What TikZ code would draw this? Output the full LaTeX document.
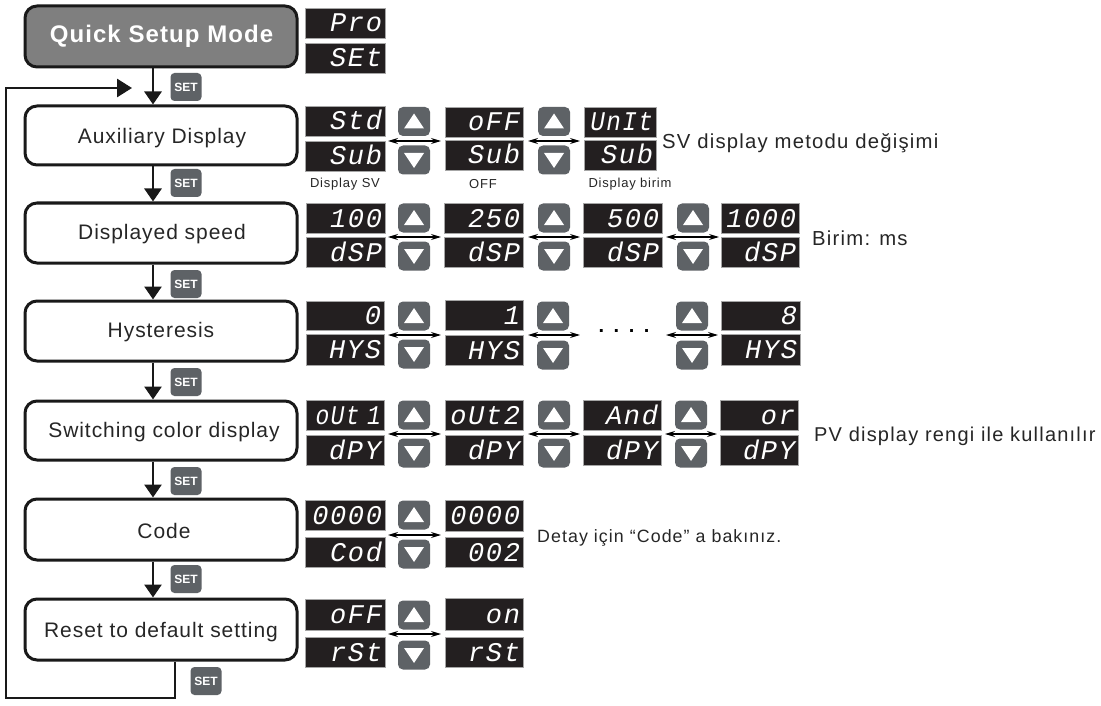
\documentclass[tikz,border=0pt]{standalone}
\usepackage{graphicx}
\usepackage{fontspec}
\setmainfont{Liberation Sans}
\newfontfamily\segfont[LetterSpace=6]{Liberation Mono}
\newfontfamily\stepfont[LetterSpace=4.5]{Liberation Sans}
\newfontfamily\notefont[LetterSpace=6]{Liberation Sans}
\usetikzlibrary{arrows.meta,calc}
\definecolor{panelc}{HTML}{231F20}
\definecolor{btnc}{HTML}{5E6266}
\definecolor{quickc}{HTML}{7F7F7F}
\newcommand\fsz[1]{\fontsize{#1}{#1}\selectfont}
\tikzset{
 x=1pt,y=-1pt,
 stepbox/.style={draw=black!90,line width=3pt,rounded corners=12pt,fill=white,minimum width=272pt,inner sep=0pt},
 flow/.style={draw=black!90,line width=2.8pt,-{Triangle[length=13pt,width=17pt]}},
 loopline/.style={draw=black!90,line width=2.8pt},
 dbl/.style={draw=black,line width=1.2pt,{Stealth[length=10pt,width=6pt]}-{Stealth[length=10pt,width=6pt]}},
 btn/.style={fill=btnc,rounded corners=5pt,inner sep=0pt,minimum width=32pt,minimum height=29pt},
 setb/.style={fill=btnc,rounded corners=4pt,inner sep=0pt,minimum width=31pt,minimum height=28pt,text=white,font=\fsz{12}\bfseries},
 note/.style={anchor=west,inner sep=0pt,text=black!85,font=\notefont\fsz{20.3}},
 small/.style={inner sep=0pt,text=black!85,font=\notefont\fsz{13}},
 steptext/.style={inner sep=0pt,text=black!85,font=\stepfont\fsz{21}},
}
\newcommand\segnode[6]{%
 \pgfmathsetmacro\segw{#4-#2}\pgfmathsetmacro\segh{#5-#3}\pgfmathsetmacro\segt{#4-#2-6}%
 \node (#1) [fill=panelc,draw=black!35,line width=.4pt,inner ysep=0pt,inner xsep=3pt,minimum width=\segw pt,minimum height=\segh pt,
   text=white,text width=\segt pt,align=right,text height=18pt,text depth=0pt,font=\segfont\itshape\fsz{27}]
   at ({(#2+#4)/2},{(#3+#5)/2}) {#6};}
\newcommand\btnup[3]{%
 \node (#1) [btn] at (#2,#3) {};
 \fill[white] ([shift={(-10,7)}]#1.center) -- ([shift={(10,7)}]#1.center) -- ([shift={(0,-8)}]#1.center) -- cycle;}
\newcommand\btndn[3]{%
 \node (#1) [btn] at (#2,#3) {};
 \fill[white] ([shift={(-10,-7)}]#1.center) -- ([shift={(10,-7)}]#1.center) -- ([shift={(0,8)}]#1.center) -- cycle;}
% arrow with its two buttons: name, left x, right x, centre x, up y, down y, arrow y
\newcommand\chooser[7]{%
 \btnup{#1u}{#4}{#5}\btndn{#1d}{#4}{#6}
 \coordinate (#1l) at (#2,#7);\coordinate (#1r) at (#3,#7);
 \draw[dbl] (#1l) -- (#1r);}
\begin{document}
\begin{tikzpicture}
\useasboundingbox (0,0) rectangle (1101,706);
\fill[white] (0,0) rectangle (1101,706);
\coordinate (fx) at (153,0);
\coordinate (rx) at (175,0);
% steps
\node (quick) [stepbox,fill=quickc,minimum height=61pt] at (161,36.5) {};
\node (quickt) [inner sep=0pt,text=white,font=\stepfont\fsz{24}\bfseries] at (161.5,36) {Quick Setup Mode};
\node (aux) [stepbox,minimum height=59pt] at (161,135.5) {};
\node (speed) [stepbox,minimum height=60pt] at (161,233) {};
\node (hyst) [stepbox,minimum height=60pt] at (161,331) {};
\node (swit) [stepbox,minimum height=59pt] at (161,430.5) {};
\node (code) [stepbox,minimum height=61pt] at (161,529.5) {};
\node (reset) [stepbox,minimum height=61pt] at (161,629.5) {};
\node (auxt) [steptext] at (162,138.5) {Auxiliary Display};
\node (speedt) [steptext] at (162,234) {Displayed speed};
\node (hystt) [steptext] at (161,332.5) {Hysteresis};
\node (swtt) [steptext] at (164,432) {Switching color display};
\node (codet) [steptext] at (164,531) {Code};
\node (resett) [steptext] at (161,632) {Reset to default setting};
% flow
\draw[flow] (quick.south -| fx) -- (aux.north -| fx);
\draw[flow] (aux.south -| fx) -- (speed.north -| fx);
\draw[flow] (speed.south -| fx) -- (hyst.north -| fx);
\draw[flow] (hyst.south -| fx) -- (swit.north -| fx);
\draw[flow] (swit.south -| fx) -- (code.north -| fx);
\draw[flow] (code.south -| fx) -- (reset.north -| fx);
\coordinate (loopb) at (175,698);
\coordinate (loopc) at (6,698);
\coordinate (loopd) at (6,88);
\coordinate (loope) at (132,88);
\draw[loopline,-{Triangle[length=15pt,width=18pt]}] (reset.south -| rx) -- (loopb) -- (loopc) -- (loopd) -- (loope);
% SET
\node (s1) [setb] at (186,87) {SET};
\node (s2) [setb] at (186,183) {SET};
\node (s3) [setb] at (186,284) {SET};
\node (s4) [setb] at (186,382) {SET};
\node (s5) [setb] at (186,481) {SET};
\node (s6) [setb] at (186,579) {SET};
\node (s7) [setb] at (206,681) {SET};
% top displays
\segnode{pa}{305}{8}{385}{38}{Pro}
\segnode{pb}{305}{43}{385}{73}{SEt}
% aux
\segnode{a1}{305}{106}{385}{136}{Std}
\segnode{a1b}{305}{141}{385}{171}{Sub}
\segnode{a2}{445}{107}{523}{137}{oFF}
\segnode{a2b}{445}{140}{523}{170}{Sub}
\segnode{a3}{584}{107}{656}{137}{\scalebox{.9}[1]{UnIt}}
\segnode{a3b}{584}{140}{656}{170}{Sub}
\chooser{ca1}{388}{441}{414}{121.5}{160}{141}
\chooser{ca2}{528}{580}{554}{121.5}{160}{141}
\node (la) [small] at (345,184) {Display SV};
\node (lb) [small] at (483,184) {OFF};
\node (lc) [small] at (630,184) {Display birim};
\node (na) [note] at (662,143) {SV display metodu değişimi};
% speed
\segnode{b1}{306}{203}{385}{233}{100}
\segnode{b1b}{306}{237}{385}{267}{dSP}
\segnode{b2}{444}{203}{523}{233}{250}
\segnode{b2b}{444}{237}{523}{267}{dSP}
\segnode{b3}{583}{203}{662}{233}{500}
\segnode{b3b}{583}{237}{662}{267}{dSP}
\segnode{b4}{721}{203}{799}{233}{1000}
\segnode{b4b}{721}{237}{799}{267}{dSP}
\chooser{cb1}{388}{441}{414}{218}{256}{237}
\chooser{cb2}{528}{580}{554}{218}{256}{237}
\chooser{cb3}{666}{719}{693}{218}{256}{237}
\node (nb) [note] at (812,238.5) {Birim: ms};
% hysteresis
\segnode{c1}{306}{301}{384}{330}{0}
\segnode{c1b}{306}{334}{384}{365}{HYS}
\segnode{c2}{445}{300}{523}{330}{1}
\segnode{c2b}{445}{335}{523}{365}{HYS}
\segnode{c4}{721}{301}{800}{330}{8}
\segnode{c4b}{721}{334}{800}{365}{HYS}
\chooser{cc1}{388}{441}{414}{316}{354}{335}
\chooser{cc2}{528}{580}{553}{316}{355}{335}
\chooser{cc3}{666}{718}{692}{316}{355}{335}
\node (dots) [inner sep=0pt,font=\fsz{20}\bfseries] at (624,331) {.\hspace{9.5pt}.\hspace{9.5pt}.\hspace{9.5pt}.};
% switching
\segnode{d1}{306}{400}{384}{430}{\scalebox{.85}[1]{oUt 1}}
\segnode{d1b}{306}{435}{384}{465}{dPY}
\segnode{d2}{445}{400}{523}{430}{oUt2}
\segnode{d2b}{445}{435}{523}{465}{dPY}
\segnode{d3}{583}{400}{661}{430}{And}
\segnode{d3b}{583}{435}{661}{465}{dPY}
\segnode{d4}{720}{400}{798}{430}{or}
\segnode{d4b}{720}{435}{798}{465}{dPY}
\chooser{cd1}{388}{441}{414}{415}{453}{434}
\chooser{cd2}{528}{580}{554}{415}{453}{434}
\chooser{cd3}{665}{717}{691}{415}{453}{434}
\node (nd) [note,font=\notefont\fsz{20}] at (814,436.5) {PV display rengi ile kullanılır};
% code
\segnode{e1}{305}{500}{385}{530}{0000}
\segnode{e1b}{305}{537}{385}{567}{Cod}
\segnode{e2}{445}{500}{523}{531}{0000}
\segnode{e2b}{445}{537}{523}{567}{002}
\chooser{ce1}{388}{441}{414}{515}{554}{535}
\node (ne) [note,font=\notefont\fsz{17.8}] at (537,537.5) {Detay için “Code” a bakınız.};
% reset
\segnode{f1}{305}{599}{385}{630}{oFF}
\segnode{f1b}{305}{637}{385}{667}{rSt}
\segnode{f2}{445}{598}{523}{630}{on}
\segnode{f2b}{445}{637}{523}{667}{rSt}
\chooser{cf1}{388}{441}{414}{615}{655}{634}
\end{tikzpicture}
\end{document}
